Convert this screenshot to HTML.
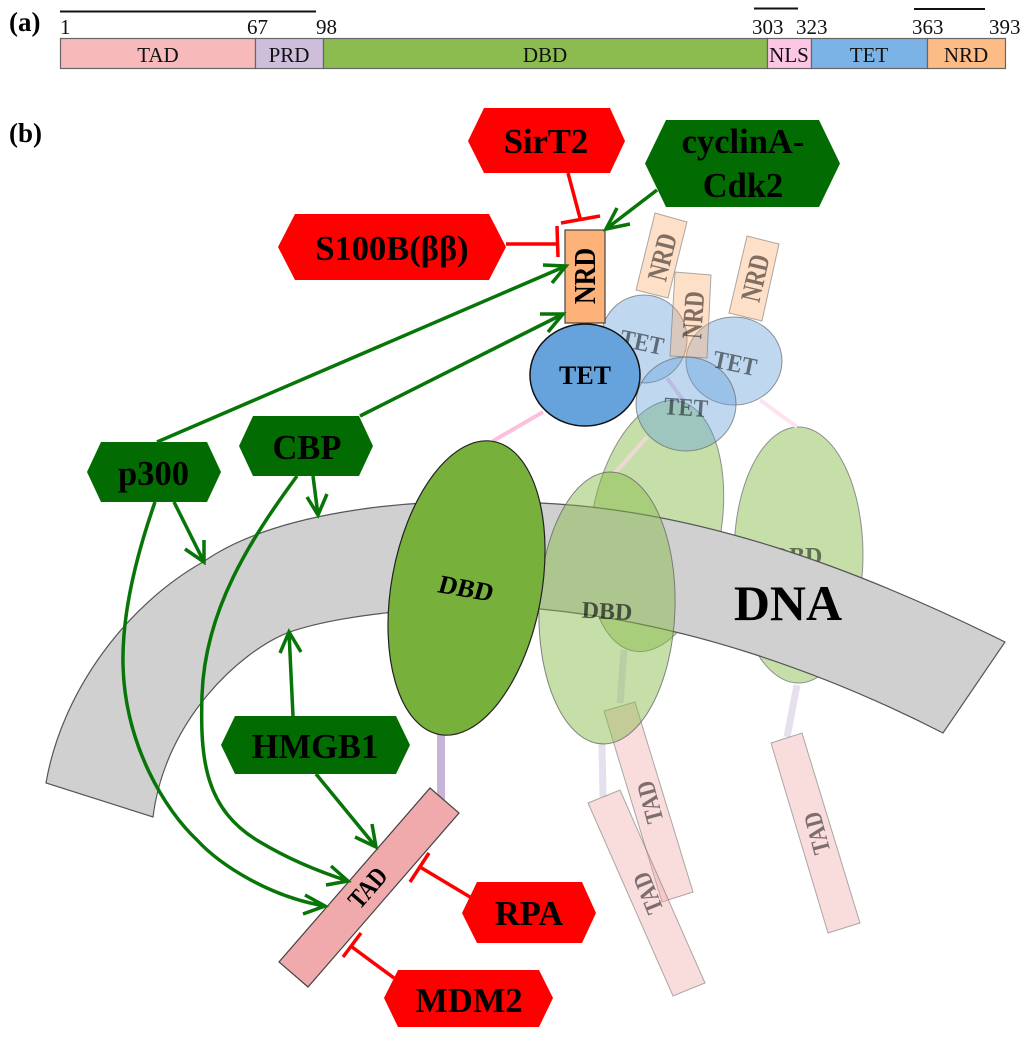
<!DOCTYPE html>
<html><head><meta charset="utf-8"><style>
html,body{margin:0;padding:0;background:#fff}
svg{display:block}
text{font-family:"Liberation Serif",serif}
.b{font-weight:bold}
.h{font-weight:bold;font-size:34.5px;text-anchor:middle;fill:#000}
.d{font-size:21px;text-anchor:middle;fill:#111}
.n{font-size:21px;fill:#111}
.g{fill:none;stroke:#077507;stroke-width:3.5}
.r{fill:none;stroke:#f00;stroke-width:3.5}
.pt{fill:#000;fill-opacity:.5;font-weight:bold;text-anchor:middle}
</style></head><body>
<svg width="1024" height="1037" viewBox="0 0 1024 1037" xmlns="http://www.w3.org/2000/svg">
<!-- (a) -->
<text x="9" y="31" class="b" font-size="27">(a)</text>
<text x="9" y="142" class="b" font-size="27">(b)</text>
<g stroke="#111" stroke-width="2"><line x1="60" y1="11.5" x2="316" y2="11.5"/><line x1="754" y1="8.5" x2="798" y2="8.5"/><line x1="914" y1="9" x2="985" y2="9"/></g>
<g class="n"><text x="60" y="34">1</text><text x="247" y="34">67</text><text x="316" y="34">98</text><text x="752" y="34">303</text><text x="796" y="34">323</text><text x="912" y="34">363</text><text x="989" y="34">393</text></g>
<g stroke="#666" stroke-width="1.2">
<rect x="60.5" y="38.5" width="195" height="30" fill="#f7b9b9"/>
<rect x="255.5" y="38.5" width="68" height="30" fill="#cdbfdc"/>
<rect x="323.5" y="38.5" width="444" height="30" fill="#8cbc50"/>
<rect x="767.5" y="38.5" width="44" height="30" fill="#fdc6e4"/>
<rect x="811.5" y="38.5" width="116" height="30" fill="#7cb3e6"/>
<rect x="927.5" y="38.5" width="78" height="30" fill="#fdbb85"/>
</g>
<g class="d"><text x="158" y="62">TAD</text><text x="289" y="62">PRD</text><text x="545" y="62">DBD</text><text x="789" y="62">NLS</text><text x="869" y="62">TET</text><text x="966" y="62">NRD</text></g>

<!-- back DBDs -->
<ellipse cx="656" cy="526" rx="65" ry="127" transform="rotate(10 656 526)" fill="#86bb48" fill-opacity=".47" stroke="#777" stroke-opacity=".8" stroke-width="1"/>
<ellipse cx="798.5" cy="555" rx="64.5" ry="128" fill="#86bb48" fill-opacity=".47" stroke="#777" stroke-opacity=".8" stroke-width="1"/>
<text x="797" y="564" class="pt" font-size="24">DBD</text>

<!-- pale linkers -->
<g fill="none">
<line x1="760" y1="400" x2="797" y2="427" stroke="#fde2ef" stroke-width="4"/>
<line x1="667" y1="378" x2="683" y2="400" stroke="#f3d3e6" stroke-width="4"/>
<line x1="647" y1="437" x2="615" y2="473" stroke="#eed9d2" stroke-width="4"/>
<line x1="602" y1="743" x2="603" y2="797" stroke="#e6e0ee" stroke-width="7"/>
<line x1="797" y1="685" x2="787" y2="737" stroke="#e6e0ee" stroke-width="7"/>
</g>

<!-- DNA -->
<path d="M46,783 C62,690 128,604 203,562 C270,515 400,495 540,503 C700,510 860,570 1005,642 L943,733 C820,670 680,622 540,609 C480,603 350,610 287,633 C240,652 165,720 153,817 Z" fill="#d0d0d0" stroke="#555" stroke-width="1.2"/>
<text x="788" y="620" class="b" font-size="50" text-anchor="middle">DNA</text>

<!-- TAD under front DBD -->
<line x1="624" y1="650" x2="620" y2="703" stroke="#e4e0f3" stroke-width="7"/>
<polygon points="604,711 635,702 693,892 662,902" fill="#f0a8a8" fill-opacity=".4" stroke="#777" stroke-opacity=".6" stroke-width="1"/>

<!-- front pale DBD -->
<ellipse cx="607" cy="608" rx="68" ry="136" transform="rotate(2 607 608)" fill="#86bb48" fill-opacity=".47" stroke="#666" stroke-opacity=".8" stroke-width="1"/>
<text x="607" y="619" class="pt" font-size="24" transform="rotate(3 607 612)" style="fill-opacity:.6">DBD</text>

<!-- pale TADs -->
<g fill="#f0a8a8" fill-opacity=".4" stroke="#777" stroke-opacity=".6" stroke-width="1">
<polygon points="588,803 620,790 705,983 673,996"/>
<polygon points="771,743 802,733 860,923 828,933"/>
</g>
<g font-size="21">
<text class="pt" transform="translate(650,802) rotate(-105) scale(1,1.2) translate(0,7)">TAD</text>
<text class="pt" transform="translate(648,893) rotate(-112) scale(1,1.2) translate(0,7)">TAD</text>
<text class="pt" transform="translate(817,833) rotate(-105) scale(1,1.2) translate(0,7)">TAD</text>
</g>

<!-- pale TET -->
<g fill="#66a3dc" fill-opacity=".42" stroke="#666" stroke-opacity=".7" stroke-width="1">
<ellipse cx="644" cy="339" rx="43" ry="44"/>
<ellipse cx="734" cy="361" rx="48" ry="44"/>
</g>
<!-- pale NRD -->
<g fill="#fdb27a" fill-opacity=".42" stroke="#777" stroke-opacity=".6" stroke-width="1">
<polygon points="655,213 687,222 668,298 636,290"/>
<polygon points="747,236 779,244 762,321 729,313"/>
<polygon points="675,272 711,275 707,358 670,356"/>
</g>
<g font-size="22">
<text class="pt" transform="translate(662,257) rotate(-76) scale(1,1.3) translate(0,7.500)">NRD</text>
<text class="pt" transform="translate(693,315) rotate(-86) scale(1,1.3) translate(0,7.500)">NRD</text>
<text class="pt" transform="translate(755,278) rotate(-77) scale(1,1.3) translate(0,7.500)">NRD</text>
</g>
<ellipse cx="686" cy="404" rx="50" ry="47" fill="#66a3dc" fill-opacity=".42" stroke="#666" stroke-opacity=".7" stroke-width="1"/>
<g font-size="22">
<text class="pt" transform="translate(642,342) rotate(12) scale(1,1.15) translate(0,7.500)">TET</text>
<text class="pt" transform="translate(735,363) rotate(12) scale(1,1.15) translate(0,7.500)">TET</text>
<text class="pt" transform="translate(686,407) rotate(4) scale(1,1.15) translate(0,7.500)">TET</text>
</g>

<!-- main subunit -->
<line x1="543" y1="412" x2="493" y2="441" stroke="#fcc0dd" stroke-width="4"/>
<line x1="441" y1="730" x2="441" y2="802" stroke="#c7b4d8" stroke-width="8"/>
<ellipse cx="466.5" cy="588" rx="75" ry="149" transform="rotate(10.4 466.5 588)" fill="#78b03c" stroke="#222" stroke-width="1.2"/>
<text transform="translate(466,589) rotate(10) skewX(-6) translate(0,8)" class="b" font-size="26" text-anchor="middle">DBD</text>
<polygon points="430,788 459,813 308,987 279,962" fill="#f1aaab" stroke="#444" stroke-width="1.2"/>
<text transform="translate(368,888) rotate(-49) scale(1,1.2) translate(0,7)" class="b" font-size="22" text-anchor="middle">TAD</text>
<rect x="565" y="230" width="40" height="93" fill="#fdb27a" stroke="#444" stroke-width="1.2"/>
<text transform="translate(585,276) rotate(-90) scale(1,1.17) translate(0,8.500)" class="b" font-size="26" text-anchor="middle">NRD</text>
<ellipse cx="585" cy="375" rx="55" ry="51" fill="#66a3dc" stroke="#111" stroke-width="1.5"/>
<text x="585" y="384" class="b" font-size="26" text-anchor="middle">TET</text>

<!-- hexagons -->
<g fill="#f00">
<polygon points="468,141 484,108 610,108 625,141 610,173 484,173"/>
<polygon points="278,247 295,214 489,214 506,247 489,280 295,280"/>
<polygon points="462,913 477,882 582,882 596,913 582,943 477,943"/>
<polygon points="384,998 398,970 539,970 553,998 539,1027 398,1027"/>
</g>
<g fill="#026c02">
<polygon points="645,163.500 666,120 819,120 840,163.500 819,207 666,207"/>
<polygon points="87,472 101,442 207,442 221,472 207,502 101,502"/>
<polygon points="239,446 253,416 359,416 373,446 359,476 253,476"/>
<polygon points="221,745 235,716 396,716 410,745 396,774 235,774"/>
</g>
<g class="h">
<text x="546" y="153">SirT2</text>
<text x="743" y="153">cyclinA-</text>
<text x="743" y="197">Cdk2</text>
<text x="392" y="260">S100B(ββ)</text>
<text x="153.500" y="485">p300</text>
<text x="307" y="459">CBP</text>
<text x="315" y="758">HMGB1</text>
<text x="529" y="925">RPA</text>
<text x="469" y="1012">MDM2</text>
</g>

<!-- inhibition -->
<g class="r">
<path d="M568,173 L580,218 M561,223 L600,216"/>
<path d="M506,244 L557,244 M557,226 L558,257"/>
<path d="M470,897 L420,867 M429,853 L410,882"/>
<path d="M394,978 L352,947 M361,933 L343,957"/>
</g>

<!-- activation -->
<g class="g">
<path d="M157,442 L566,266 M543,265 L566,266 L552,283"/>
<path d="M360,416 L563,314 M540,314 L563,314 L548,332"/>
<path d="M657,190 L606,229 M617,208 L606,229 L630,224"/>
<path d="M174,502 L204,562 M185,549 L204,562 L204,540"/>
<path d="M313,476 L318,515 M307,497 L318,515 L327,494"/>
<path d="M293,716 L289,632 M280,653 L289,632 L301,652"/>
<path d="M316,774 L376,847 M355,837 L376,847 L372,824"/>
<path d="M155,502 C133,565 122,620 123,665 C125,745 165,810 197,840 C220,865 270,897 325,906 M305,895 L325,906 L303,914"/>
<path d="M297,476 C250,540 205,610 202,695 C200,760 205,810 260,842 C290,860 320,872 348,881 M331,866 L348,881 L326,885"/>
</g>
</svg>
</body></html>
